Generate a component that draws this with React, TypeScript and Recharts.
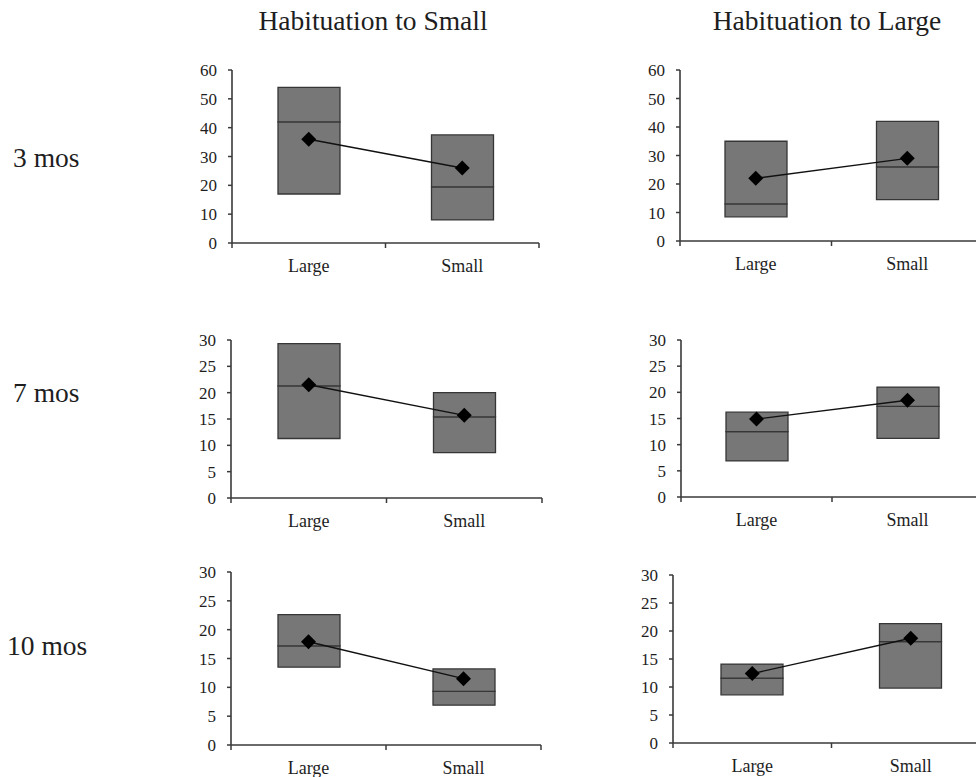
import React from 'react';
import { ComposedChart, Bar, Line, XAxis, YAxis } from 'recharts';

// two conditions per panel
const categories = ['Large', 'Small'];
const columnTitles = ['Habituation to Small', 'Habituation to Large'];
const rowLabels = ['3 mos', '7 mos', '10 mos'];

// panel order: 3mo-small, 3mo-large, 7mo-small, 7mo-large, 10mo-small, 10mo-large
const lowerQuartile = [[17, 8], [8.5, 14.5], [11.3, 8.6], [6.9, 11.2], [13.5, 6.9], [8.6, 9.8]];
const medians = [[42, 19.5], [13, 26], [21.3, 15.4], [12.5, 17.3], [17.2, 9.3], [11.6, 18.1]];
const upperQuartile = [[54, 37.5], [35, 42], [29.3, 20], [16.2, 21], [22.6, 13.2], [14.1, 21.3]];
const means = [[36, 26], [22, 29], [21.5, 15.7], [14.9, 18.5], [17.9, 11.5], [12.4, 18.7]];
const yMax = [60, 60, 30, 30, 30, 30];
const yStep = [10, 10, 5, 5, 5, 5];

// where each plot area sits on the page
const layout = [
  { left: 232, top: 70, w: 307, h: 173 },
  { left: 680, top: 70, w: 303, h: 171 },
  { left: 231, top: 340, w: 311, h: 158 },
  { left: 681, top: 340, w: 302, h: 157 },
  { left: 231, top: 572, w: 310, h: 173 },
  { left: 673, top: 575, w: 317, h: 168 },
];

const Y_AXIS_W = 60;
const MARGIN_TOP = 12;
const MARGIN_RIGHT = 12;
const X_AXIS_H = 40;
const AXIS_COLOR = '#3a3a3a';
const TEXT_COLOR = '#1e1e1e';
const FONT = '"Liberation Serif", "Times New Roman", serif';

const buildRows = (i: number) =>
  categories.map((name, j) => ({
    name,
    x: j + 0.5,
    base: lowerQuartile[i][j],
    lower: medians[i][j] - lowerQuartile[i][j],
    upper: upperQuartile[i][j] - medians[i][j],
    mean: means[i][j],
  }));

const Diamond = (props: any) => {
  const { cx, cy } = props;
  if (cx == null || cy == null) return null;
  const r = 7.5;
  return (
    <polygon
      points={`${cx},${cy - r} ${cx + r},${cy} ${cx},${cy + r} ${cx - r},${cy}`}
      fill="#000"
    />
  );
};

const XTick = (props: any) => {
  const { x, y, payload } = props;
  const v = payload.value;
  if (Number.isInteger(v)) {
    return <line x1={x} y1={y} x2={x} y2={y + 5} stroke={AXIS_COLOR} strokeWidth={1.5} />;
  }
  return (
    <text x={x} y={y + 29} textAnchor="middle" fontSize={18} fill={TEXT_COLOR} fontFamily={FONT}>
      {categories[Math.floor(v)]}
    </text>
  );
};

const Panel = ({ i }: { i: number }) => {
  const g = layout[i];
  const ticks: number[] = [];
  for (let t = 0; t <= yMax[i]; t += yStep[i]) ticks.push(t);
  return (
    <div style={{ position: 'absolute', left: g.left - Y_AXIS_W, top: g.top - MARGIN_TOP }}>
      <ComposedChart
        width={Y_AXIS_W + g.w + MARGIN_RIGHT}
        height={MARGIN_TOP + g.h + X_AXIS_H}
        data={buildRows(i)}
        margin={{ top: MARGIN_TOP, right: MARGIN_RIGHT, left: 0, bottom: 0 }}
      >
        <XAxis
          dataKey="x"
          type="number"
          domain={[0, 2]}
          ticks={[0, 0.5, 1, 1.5, 2]}
          interval={0}
          height={X_AXIS_H}
          tickSize={0}
          tickMargin={0}
          tickLine={false}
          tick={<XTick />}
          axisLine={{ stroke: AXIS_COLOR, strokeWidth: 1.6 }}
          allowDataOverflow
        />
        <YAxis
          width={Y_AXIS_W}
          domain={[0, yMax[i]]}
          ticks={ticks}
          interval={0}
          allowDataOverflow
          tickSize={4}
          tickMargin={11}
          axisLine={{ stroke: AXIS_COLOR, strokeWidth: 1.6 }}
          tickLine={{ stroke: AXIS_COLOR, strokeWidth: 1.5 }}
          tick={{ fontSize: 17, fill: TEXT_COLOR, fontFamily: FONT }}
        />
        <Bar dataKey="base" stackId="box" fill="none" barSize={62} isAnimationActive={false} />
        <Bar
          dataKey="lower"
          stackId="box"
          fill="#777777"
          stroke="#363636"
          strokeWidth={1.3}
          barSize={62}
          isAnimationActive={false}
        />
        <Bar
          dataKey="upper"
          stackId="box"
          fill="#777777"
          stroke="#363636"
          strokeWidth={1.3}
          barSize={62}
          isAnimationActive={false}
        />
        <Line
          dataKey="mean"
          stroke="#111"
          strokeWidth={1.4}
          dot={<Diamond />}
          activeDot={false}
          isAnimationActive={false}
        />
      </ComposedChart>
    </div>
  );
};

export default function App() {
  return (
    <div
      style={{
        position: 'absolute',
        left: 0,
        top: 0,
        width: 976,
        height: 777,
        overflow: 'hidden',
        background: '#fff',
        fontFamily: FONT,
      }}
    >
      <svg width={976} height={777} style={{ position: 'absolute', left: 0, top: 0 }}>
        <text x={373} y={30} textAnchor="middle" fontSize={27.5} fill={TEXT_COLOR} fontFamily={FONT}>
          {columnTitles[0]}
        </text>
        <text x={827} y={30} textAnchor="middle" fontSize={27.5} fill={TEXT_COLOR} fontFamily={FONT}>
          {columnTitles[1]}
        </text>
        <text x={13} y={167} fontSize={27.5} fill={TEXT_COLOR} fontFamily={FONT}>
          {rowLabels[0]}
        </text>
        <text x={13} y={402} fontSize={27.5} fill={TEXT_COLOR} fontFamily={FONT}>
          {rowLabels[1]}
        </text>
        <text x={7} y={655} fontSize={27.5} fill={TEXT_COLOR} fontFamily={FONT}>
          {rowLabels[2]}
        </text>
      </svg>
      {layout.map((_, i) => (
        <Panel key={i} i={i} />
      ))}
    </div>
  );
}
